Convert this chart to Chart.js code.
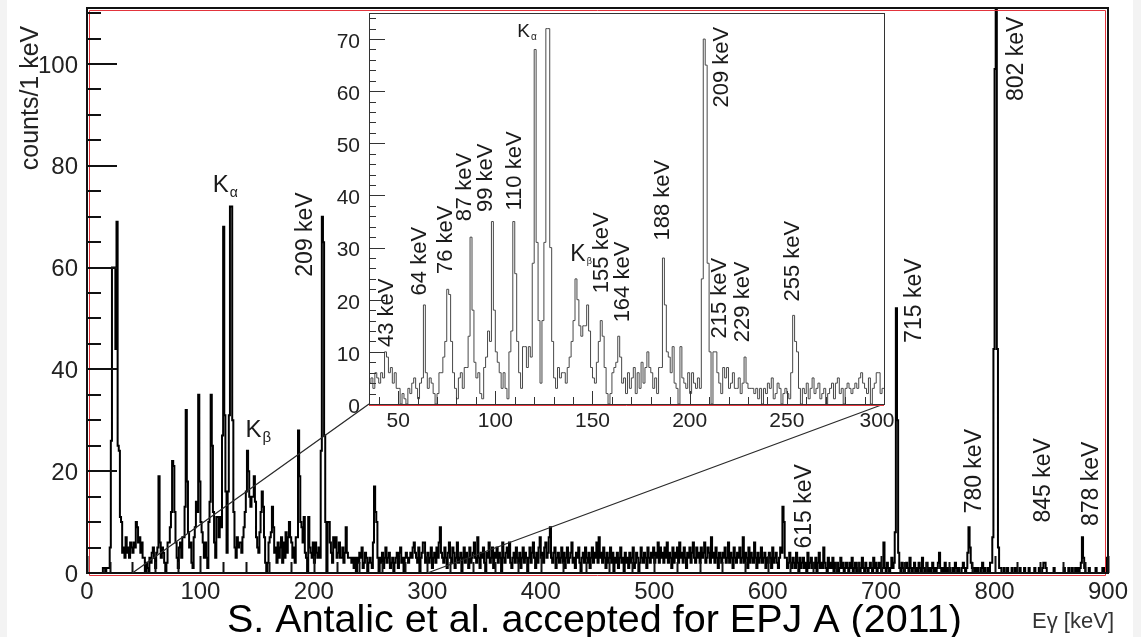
<!DOCTYPE html>
<html>
<head>
<meta charset="utf-8">
<title>gamma spectrum</title>
<script src="https://cdn.jsdelivr.net/npm/chart.js@4.4.0/dist/chart.umd.min.js"></script>
<style>
  html, body { margin: 0; padding: 0; background: #fff; }
  #wrap { position: relative; width: 1141px; height: 637px; }
  #wrap canvas { position: absolute; left: 0; top: 0; }
</style>
</head>
<body>
<div id="wrap">
  <canvas id="main" width="1141" height="637"></canvas>
  <canvas id="inset" width="1141" height="637"></canvas>
</div>
<script>
const FONT = '"Liberation Sans", Arial, Helvetica, sans-serif'

// counts per 1 keV bin, bin i covers [i, i+1) keV, 0..899
const counts = [
  0,0,0,0,0,0,0,0,0,0, 0,0,0,0,1,1,0,1,1,1,
  5,26,60,60,60,44,69,25,24,11, 10,4,5,3,7,4,5,3,6,5,
  4,6,5,10,9,6,7,4,6,3, 3,0,2,1,0,3,2,4,5,3,
  1,4,5,19,6,3,5,4,2,0, 2,6,6,9,12,22,21,12,6,3,
  1,5,6,3,7,7,13,32,18,8, 5,6,2,1,7,9,14,12,35,18,
  10,8,6,3,6,3,1,10,14,35, 25,12,6,3,11,11,7,11,9,27,
  68,31,16,4,16,31,72,72,30,12, 5,3,7,5,6,6,4,7,9,12,
  16,24,20,15,13,15,15,19,14,7, 5,4,8,12,16,13,7,2,0,2,
  6,7,8,13,9,4,5,2,6,3, 5,7,2,6,3,8,4,7,10,7,
  6,3,5,2,7,7,28,19,10,9, 6,11,4,3,0,11,5,4,3,6,
  2,6,4,3,5,3,24,70,65,27, 10,0,10,10,6,4,2,7,5,7,
  3,4,6,3,3,5,2,4,9,4, 3,3,3,2,3,1,3,0,3,2,
  4,3,5,1,2,4,3,0,2,3, 2,1,6,17,12,10,3,0,3,2,
  4,1,3,5,2,3,4,1,2,3, 0,2,3,4,1,4,5,2,3,0,
  3,4,3,2,3,4,3,5,6,4, 3,2,5,0,3,4,6,6,2,3,
  4,2,3,5,1,3,4,2,5,3, 6,9,4,3,2,5,3,1,4,6,
  3,2,5,4,1,3,6,2,3,4, 0,3,5,2,4,3,1,5,2,3,
  4,6,3,2,7,3,1,4,3,5, 2,0,4,3,6,2,3,5,1,4,
  3,5,2,4,3,0,6,3,2,4, 5,3,6,2,1,3,4,2,5,3,
  2,4,1,3,5,2,4,3,0,3, 5,2,4,6,3,1,4,2,5,7,
  3,4,2,5,6,3,4,7,9,3, 2,4,5,1,3,4,2,3,5,2,
  4,1,3,5,2,3,4,6,2,3, 1,4,3,5,2,0,3,4,2,5,
  3,2,4,1,3,5,2,4,3,6, 2,7,3,4,2,5,3,1,4,2,
  3,5,2,4,0,3,2,4,1,3, 5,2,3,0,4,2,3,1,4,2,
  3,5,1,2,4,3,0,2,5,3, 2,4,3,1,5,3,2,4,3,5,
  2,4,3,6,2,5,3,4,2,5, 3,6,2,4,3,1,5,2,4,3,
  5,2,6,3,4,2,5,3,1,4, 3,5,2,4,6,3,2,5,3,4,
  2,5,3,4,6,2,3,5,4,2, 7,3,4,2,5,3,1,4,3,2,
  4,3,5,2,3,6,2,4,3,1, 5,3,2,4,3,5,2,3,7,2,
  4,3,1,5,2,4,3,2,6,3, 1,4,2,3,5,2,3,4,1,3,
  2,4,3,1,5,2,3,4,2,1, 3,5,4,13,10,3,3,1,2,4,
  2,1,3,2,1,4,2,0,3,1, 2,3,1,2,0,4,1,2,3,1,
  2,1,3,0,2,4,1,2,1,5, 2,1,0,3,1,2,1,3,0,2,
  1,2,0,1,3,1,2,0,1,2, 1,0,2,1,3,0,1,2,0,1,
  2,0,1,3,1,0,2,1,0,1, 2,1,0,3,1,2,0,1,2,1,
  0,1,6,1,0,2,1,0,1,3, 1,2,8,52,30,4,1,0,2,1,
  0,1,2,1,0,3,1,0,1,2, 0,1,0,2,1,0,3,1,0,1,
  2,0,1,0,1,2,0,1,0,1, 2,4,1,0,1,0,2,0,1,0,
  1,0,0,1,0,2,1,0,1,0, 0,1,2,1,0,1,4,9,5,2,
  1,1,0,1,0,1,0,0,1,2, 0,1,0,0,1,0,2,2,7,44,
  99,120,44,5,1,1,0,0,1,0, 0,1,0,0,0,1,0,0,1,0,
  0,0,1,0,0,0,1,0,0,0, 1,0,0,0,0,1,0,0,0,1,
  0,0,1,2,2,1,0,0,0,0, 0,0,1,0,0,0,0,0,0,0,
  0,1,0,0,0,1,0,0,1,0, 0,1,0,1,0,1,2,7,3,1,
  0,0,0,1,0,0,0,0,0,1, 0,0,0,0,0,1,0,1,0,3
]

const insetFrom = 35
const insetTo = 300

const mainXTicks = [0, 100, 200, 300, 400, 500, 600, 700, 800, 900]
const mainYTicks = [0, 20, 40, 60, 80, 100]
const insetXTicks = [50, 100, 150, 200, 250, 300]
const insetYTicks = [0, 10, 20, 30, 40, 50, 60, 70]

const mainPeakNames = ['209 keV', '615 keV', '715 keV', '780 keV', '802 keV', '845 keV', '878 keV']
const insetPeakNames = ['43 keV', '64 keV', '76 keV', '87 keV', '99 keV', '110 keV', '155 keV',
  '164 keV', '188 keV', '209 keV', '215 keV', '229 keV', '255 keV']

const yTitle = 'counts/1 keV'
const xTitle = 'Eγ [keV]'
const credit = 'S. Antalic et al. accepted for EPJ A (2011)'

// label anchors in data units (keV, counts), same order as the names
const mainPeakAt = [[192.7, 66.5], [632.7, 13.1], [729.7, 53.5], [782.6, 20], [819.7, 101], [843.5, 18.2], [885.8, 17.5]]
const insetPeakAt = [[44.3, 17.5], [61.2, 27.4], [74.6, 31.5], [84.4, 41.6], [95.2, 43.4], [110.1, 44.7], [154.9, 29],
  [165.7, 23.4], [186.3, 39.1], [216.7, 64.6], [215.6, 20.3], [227.5, 19.6], [253.2, 27.4]]

function histPoints(from, to) {
  const pts = []
  for (let e = from; e < to; e++) pts.push({ x: e, y: counts[e] })
  pts.push({ x: to, y: counts[to - 1] })
  return pts
}

function vtext(ctx, txt, x, y, size, color) {
  ctx.save()
  ctx.translate(x, y)
  ctx.rotate(-Math.PI / 2)
  ctx.font = size + 'px ' + FONT
  ctx.fillStyle = color || '#1a1a1a'
  ctx.textAlign = 'center'
  ctx.textBaseline = 'middle'
  ctx.fillText(txt, 0, 0)
  ctx.restore()
}

function subK(ctx, x, y, sub, size, subSize) {
  ctx.save()
  ctx.fillStyle = '#1a1a1a'
  ctx.textBaseline = 'alphabetic'
  ctx.textAlign = 'left'
  ctx.font = size + 'px ' + FONT
  ctx.fillText('K', x, y)
  const w = ctx.measureText('K').width
  ctx.font = subSize + 'px ' + FONT
  ctx.fillText(sub, x + w + 1, y + subSize * 0.35)
  ctx.restore()
}

const mainDeco = {
  id: 'mainDeco',
  beforeDraw(chart) {
    const { ctx, width, height } = chart
    ctx.save()
    ctx.fillStyle = '#fff'
    ctx.fillRect(0, 0, width, height)
    ctx.fillStyle = '#f3f3f3'
    ctx.fillRect(0, 0, 7, height)
    ctx.fillRect(1133, 0, width - 1133, height)
    ctx.restore()
  },
  afterDatasetsDraw(chart) {
    const { ctx, chartArea: a, scales: { x, y } } = chart
    ctx.save()
    // frame
    ctx.strokeStyle = '#e3343c'
    ctx.lineWidth = 1
    ctx.beginPath()
    ctx.moveTo(a.left + 2.5, a.bottom + 2.5); ctx.lineTo(a.left + 2.5, a.top + 2.5)
    ctx.lineTo(a.right - 2.5, a.top + 2.5); ctx.lineTo(a.right - 2.5, a.bottom + 2.5)
    ctx.lineTo(a.left + 2.5, a.bottom + 2.5)
    ctx.stroke()
    ctx.strokeStyle = '#111'
    ctx.lineWidth = 2
    ctx.strokeRect(a.left, a.top, a.right - a.left, a.bottom - a.top)

    // ticks
    ctx.beginPath()
    for (let v = 0; v <= 900; v += 20) {
      const px = Math.round(x.getPixelForValue(v)) + 0.5
      const len = v % 100 === 0 ? 17 : 11
      ctx.moveTo(px, a.bottom); ctx.lineTo(px, a.bottom - len)
    }
    for (let v = 0; v <= 110; v += 5) {
      const py = Math.round(y.getPixelForValue(v))
      const len = v % 20 === 0 ? 30 : 14
      ctx.moveTo(a.left, py); ctx.lineTo(a.left + len, py)
    }
    ctx.stroke()

    // tick labels
    ctx.fillStyle = '#222'
    ctx.font = '24px ' + FONT
    ctx.textBaseline = 'middle'
    ctx.textAlign = 'center'
    mainXTicks.forEach(v => ctx.fillText(String(v), x.getPixelForValue(v), 592))
    ctx.textAlign = 'right'
    mainYTicks.forEach(v => ctx.fillText(String(v), 78, y.getPixelForValue(v) + 2))

    // titles
    vtext(ctx, yTitle, 31, 98, 25, '#222')
    ctx.font = '22px ' + FONT
    ctx.textAlign = 'right'
    ctx.fillStyle = '#333'
    ctx.fillText(xTitle, 1114, 622)
    ctx.font = '39.5px ' + FONT
    ctx.textAlign = 'left'
    ctx.fillStyle = '#000'
    ctx.fillText(credit, 227, 621)

    // peak labels
    mainPeakNames.forEach((t, i) => {
      const [e, c] = mainPeakAt[i]
      vtext(ctx, t, x.getPixelForValue(e), y.getPixelForValue(c), 23)
    })
    subK(ctx, x.getPixelForValue(110.8), y.getPixelForValue(74.8), 'α', 24, 14)
    subK(ctx, x.getPixelForValue(139.8), y.getPixelForValue(26.8), 'β', 24, 15)
    ctx.restore()
  }
}

const mainChart = new Chart(document.getElementById('main'), {
  type: 'line',
  data: {
    datasets: [{
      data: histPoints(0, 900),
      stepped: true,
      borderColor: '#000',
      borderWidth: 2,
      pointRadius: 0,
      fill: false
    }]
  },
  options: {
    responsive: false,
    animation: false,
    devicePixelRatio: 1,
    events: [],
    layout: { padding: { left: 87, top: 8, right: 33, bottom: 64 } },
    plugins: { legend: { display: false }, tooltip: { enabled: false } },
    scales: {
      x: { type: 'linear', display: false, min: 0, max: 900 },
      y: { type: 'linear', display: false, min: 0, max: 111 }
    }
  },
  plugins: [mainDeco]
})

const insetDeco = {
  id: 'insetDeco',
  beforeDatasetsDraw(chart) {
    const { ctx, chartArea: a } = chart
    const mx = mainChart.scales.x, my = mainChart.scales.y
    ctx.save()
    // zoom lines from the main axis to the inset corners
    ctx.strokeStyle = '#2a2a2a'
    ctx.lineWidth = 1.3
    ctx.beginPath()
    ctx.moveTo(mx.getPixelForValue(40), my.getPixelForValue(0)); ctx.lineTo(a.left, a.bottom)
    ctx.moveTo(mx.getPixelForValue(300), my.getPixelForValue(0)); ctx.lineTo(a.right, a.bottom)
    ctx.stroke()
    ctx.fillStyle = '#fff'
    ctx.fillRect(a.left, a.top, a.right - a.left, a.bottom - a.top)
    ctx.restore()
  },
  afterDatasetsDraw(chart) {
    const { ctx, chartArea: a, scales: { x, y } } = chart
    ctx.save()
    ctx.strokeStyle = '#e3343c'
    ctx.lineWidth = 1
    ctx.beginPath()
    ctx.moveTo(a.left, a.bottom + 1.5); ctx.lineTo(a.right, a.bottom + 1.5)
    ctx.stroke()
    ctx.strokeStyle = '#333'
    ctx.strokeRect(a.left + 0.5, a.top + 0.5, a.right - a.left, a.bottom - a.top)

    ctx.beginPath()
    for (let v = 40; v <= 300; v += 10) {
      const px = Math.round(x.getPixelForValue(v)) + 0.5
      const len = v % 50 === 0 ? 13 : 7
      ctx.moveTo(px, a.bottom); ctx.lineTo(px, a.bottom - len)
    }
    for (let v = 0; v <= 74; v += 2) {
      const py = Math.round(y.getPixelForValue(v)) + 0.5
      const len = v % 10 === 0 ? 16 : 7
      ctx.moveTo(a.left, py); ctx.lineTo(a.left + len, py)
    }
    ctx.stroke()

    ctx.fillStyle = '#222'
    ctx.font = '21px ' + FONT
    ctx.textBaseline = 'middle'
    ctx.textAlign = 'center'
    insetXTicks.forEach(v => ctx.fillText(String(v), x.getPixelForValue(v) - (v === insetTo ? 7 : 0), 421))
    ctx.textAlign = 'right'
    insetYTicks.forEach(v => ctx.fillText(String(v), a.left - 9, y.getPixelForValue(v) + 3))

    insetPeakNames.forEach((t, i) => {
      const [e, c] = insetPeakAt[i]
      vtext(ctx, t, x.getPixelForValue(e), y.getPixelForValue(c), 22)
    })
    subK(ctx, x.getPixelForValue(111.3), y.getPixelForValue(70.4), 'α', 19, 10)
    subK(ctx, x.getPixelForValue(138.6), y.getPixelForValue(27.4), 'β', 23, 9)
    ctx.restore()
  }
}

const insetChart = new Chart(document.getElementById('inset'), {
  type: 'line',
  data: {
    datasets: [{
      data: histPoints(insetFrom, insetTo),
      stepped: true,
      borderColor: '#484848',
      borderWidth: 1,
      pointRadius: 0,
      fill: false
    }]
  },
  options: {
    responsive: false,
    animation: false,
    devicePixelRatio: 1,
    events: [],
    layout: { padding: { left: 369, top: 13, right: 257, bottom: 233 } },
    plugins: { legend: { display: false }, tooltip: { enabled: false } },
    scales: {
      x: { type: 'linear', display: false, min: insetFrom, max: insetTo },
      y: { type: 'linear', display: false, min: 0, max: 75 }
    }
  },
  plugins: [insetDeco]
})
</script>
</body>
</html>
